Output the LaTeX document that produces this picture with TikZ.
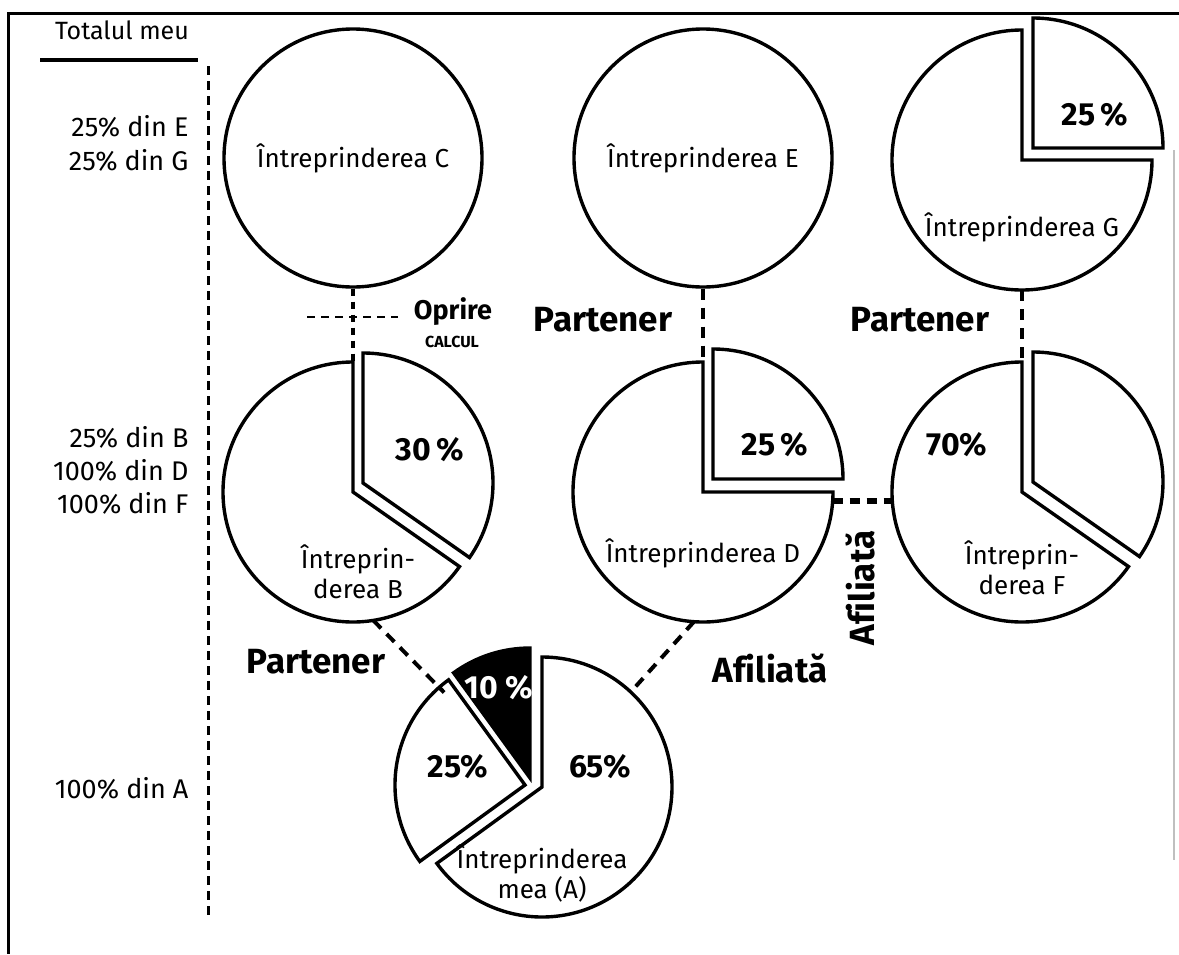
\documentclass[tikz,border=0pt]{standalone}
\usepackage{fontspec}
\setmainfont{Fira Sans}[Ligatures=NoCommon]
\usepackage{tikz}
\usetikzlibrary{calc}

\begin{document}
\begin{tikzpicture}[
    x=1pt, y=-1pt,
    whole/.style={circle, draw, line width=3.4pt, minimum size=258pt, inner sep=0pt,
                  font=\fontsize{26}{30}\selectfont},
    hub/.style={circle, minimum size=#1, inner sep=0pt, outer sep=0pt},
    hub/.default=260pt,
    slice/.style={draw, line width=3.4pt, fill=white},
    share/.style={font=\bfseries\fontsize{32}{36}\selectfont},
    firm/.style={font=\fontsize{26}{30}\selectfont, align=center},
    tag/.style={font=\bfseries\fontsize{35}{38}\selectfont},
    total/.style={anchor=east, font=\fontsize{27}{30}\selectfont},
    link/.style={line width=4pt, dash pattern=on 11pt off 8pt}
]
    \useasboundingbox (0,0) rectangle (1179,954);

    % Frame
    \draw[line width=3pt] (1179,13) -- (8,13) -- (8,954);
    \draw[gray!50, line width=1.5pt] (1174,150) -- (1174,860);

    % Left column
    \node[font=\fontsize{25}{28}\selectfont] (total) at (122,30) {Totalul meu};
    \draw[line width=4pt] (40,60) -- (198,60);
    \draw[line width=3pt, dash pattern=on 9pt off 6pt] (208,66) -- (208,918);
    \node[total] (tE) at (192,126) {25\% din E};
    \node[total] (tG) at (192,160) {25\% din G};
    \node[total] (tB) at (192,437) {25\% din B};
    \node[total] (tD) at (192,470) {100\% din D};
    \node[total] (tF) at (192,503) {100\% din F};
    \node[total] (tA) at (192,788) {100\% din A};

    % Row 1
    \node[whole] (C) at (353,158) {Întreprinderea C};
    \node[whole] (E) at (703,158) {Întreprinderea E};
    \node[hub] (G) at (1022,160) {};
    \draw[slice] (G.center) -- ++(-90:130) arc[start angle=-90, end angle=-360, radius=130] -- cycle;
    \draw[slice] ($(G)+(11,-12)$) -- ++(0:130) arc[start angle=0, end angle=-90, radius=130] -- cycle;
    \node[share] (g25) at (1095,115) {25\,\%};
    \node[firm] (gname) at (1022,227) {Întreprinderea G};

    % Row 2
    \node[hub] (B) at (353,492) {};
    \draw[slice] (B.center) -- ++(-90:130) arc[start angle=-90, end angle=-325, radius=130] -- cycle;
    \draw[slice] ($(B)+(10,-9)$) -- ++(-90:130) arc[start angle=-90, end angle=35, radius=130] -- cycle;
    \node[share] (b30) at (430,450) {30\,\%};
    \node[firm] (bname) at (358,572) {Întreprin-\\derea B};

    \node[hub] (D) at (703,492) {};
    \draw[slice] (D.center) -- ++(-90:130) arc[start angle=-90, end angle=-360, radius=130] -- cycle;
    \draw[slice] ($(D)+(10,-13)$) -- ++(0:130) arc[start angle=0, end angle=-90, radius=130] -- cycle;
    \node[share] (d25) at (775,445) {25\,\%};
    \node[firm] (dname) at (703,553) {Întreprinderea D};

    \node[hub] (F) at (1022,492) {};
    \draw[slice] (F.center) -- ++(-90:130) arc[start angle=-90, end angle=-325, radius=130] -- cycle;
    \draw[slice] ($(F)+(11,-10)$) -- ++(-90:130) arc[start angle=-90, end angle=35, radius=130] -- cycle;
    \node[share] (f70) at (957,445) {70\%};
    \node[firm] (fname) at (1022,568) {Întreprin-\\derea F};

    % Row 3
    \node[hub=272pt] (A) at (542,787) {};
    \draw[slice] (A.center) -- ++(-90:130) arc[start angle=-90, end angle=144, radius=130] -- cycle;
    \draw[slice, fill=black] ($(A)+(-12,-9)$) -- ++(-90:130) arc[start angle=-90, end angle=-126, radius=130] -- cycle;
    \draw[slice] ($(A)+(-17,-2)$) -- ++(-126:130) arc[start angle=-126, end angle=-216, radius=130] -- cycle;
    \node[share, text=white] (a10) at (499,688) {10 \%};
    \node[share] (a25) at (458,767) {25\%};
    \node[share] (a65) at (600,767) {65\%};
    \node[firm] (aname) at (542,873) {Întreprinderea\\mea (A)};

    % Links
    \draw[line width=3.5pt, dash pattern=on 7pt off 6pt] (C.south) -- (B.north);
    \coordinate (stopL) at (307,317);
    \coordinate (stopR) at (398,317);
    \draw[line width=2pt, dash pattern=on 8pt off 6pt] (stopL) -- (stopR);
    \node[font=\bfseries\fontsize{27}{28}\selectfont] (stop) at (453,312) {Oprire};
    \node[font=\bfseries\fontsize{16}{18}\selectfont] (calcul) at (452,342) {CALCUL};
    \draw[link] (E.south) -- (D.north);
    \draw[link] (G.south) -- (F.north);
    \draw[link] (B.-81) -- (A.136);
    \draw[link] (D.-94) -- (A.47);
    \draw[link, line width=6pt, dash pattern=on 10pt off 7pt] (D.-4) -- (F.-176);

    % Labels
    \node[tag] (pCB) at (603,320) {Partener};
    \node[tag] (pGF) at (920,320) {Partener};
    \node[tag] (pBA) at (316,662) {Partener};
    \node[tag] (aDA) at (770,668) {Afiliată};
    \node[tag, rotate=90] (aDF) at (860,588) {Afiliată};
\end{tikzpicture}
\end{document}
